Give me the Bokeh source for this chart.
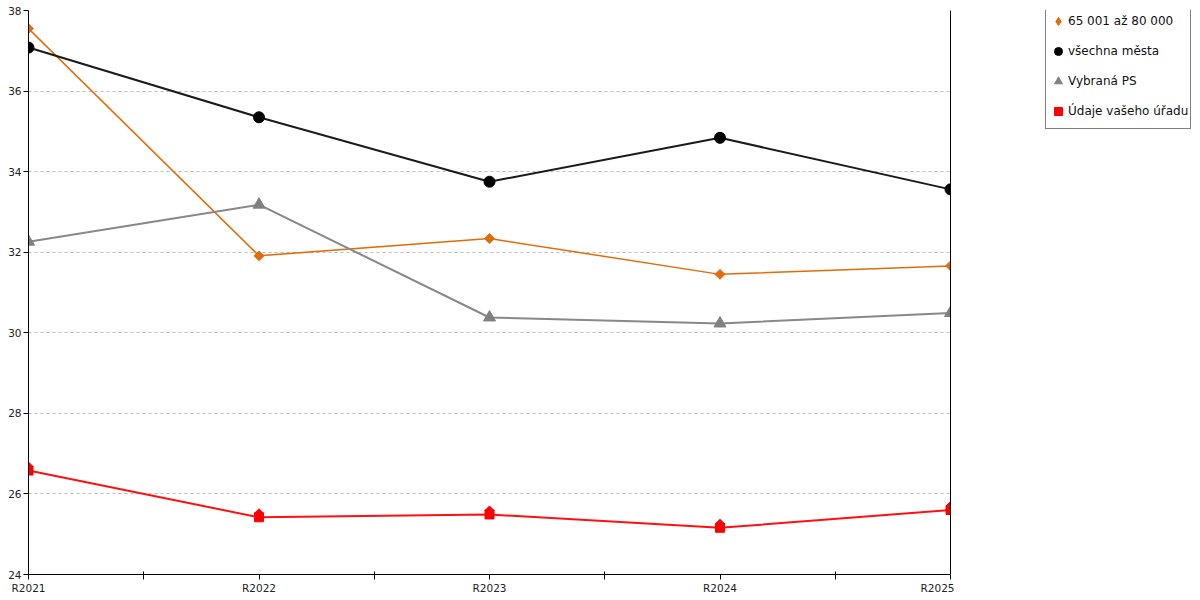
import math
from bokeh.plotting import figure
from bokeh.layouts import row
from bokeh.models import FixedTicker, LinearAxis, Legend, LegendItem, Range1d
from bokeh.embed import file_html
from bokeh.resources import INLINE

years = ["R2021", "R2022", "R2023", "R2024", "R2025"]
s_65 = [37.55, 31.91, 32.34, 31.45, 31.66]
s_all = [37.08, 35.35, 33.75, 34.84, 33.56]
s_ps = [32.26, 33.18, 30.38, 30.23, 30.49]
s_office = [26.58, 25.42, 25.49, 25.16, 25.60]
names = ["65 001 až 80 000", "všechna města", "Vybraná PS", "Údaje vašeho úřadu"]
y_ticks = [24, 26, 28, 30, 32, 34, 36, 38]

FONT = "DejaVu Sans"
x = list(range(len(years)))
x_minor = [i + 0.5 for i in range(len(years) - 1)]

H = 596
p = figure(width=954, height=H, output_backend="svg", toolbar_location=None,
           x_range=Range1d(0, len(years) - 1), y_range=Range1d(24, 38),
           min_border_left=28, min_border_right=4, min_border_top=10, min_border_bottom=0)
p.outline_line_color = None
p.background_fill_color = "white"
p.border_fill_color = "white"

# axes
xa = p.xaxis[0]
xa.ticker = FixedTicker(ticks=x, minor_ticks=x_minor)
xa.major_label_overrides = {i: years[i] for i in x}
xa.major_tick_out = 5
xa.major_tick_in = 0
xa.minor_tick_out = 5
xa.minor_tick_in = 3
xa.major_label_standoff = 2
xa.axis_line_color = "black"
xa.major_label_text_font = FONT
xa.major_label_text_font_size = "10.5px"
xa.major_label_text_color = "#222222"

ya = p.yaxis[0]
ya.ticker = FixedTicker(ticks=y_ticks)
ya.major_tick_out = 5
ya.major_tick_in = 0
ya.minor_tick_out = 0
ya.minor_tick_in = 0
ya.major_label_standoff = 2
ya.major_label_text_font = FONT
ya.major_label_text_font_size = "10.5px"
ya.major_label_text_color = "#222222"

ra = LinearAxis(ticker=FixedTicker(ticks=[]), major_label_text_font_size="0px",
                major_tick_out=0, minor_tick_out=0, major_label_standoff=0,
                axis_line_color="black")
p.add_layout(ra, "right")

p.xgrid.visible = False
p.ygrid.ticker = FixedTicker(ticks=y_ticks)
p.ygrid.grid_line_color = "#bbbbbb"
p.ygrid.grid_line_dash = "3 3"
p.ygrid.grid_line_width = 1

# series
C_OR, C_BK, C_GR, C_RD = "#E36C0A", "black", "#808080", "#FF0000"
p.line(x, s_65, line_color=C_OR, line_width=1.5)
p.line(x, s_all, line_color="#1a1a1a", line_width=2)
p.line(x, s_ps, line_color="#888888", line_width=2)
p.line(x, s_office, line_color="#FF1010", line_width=2)

p.scatter(x, s_65, marker="square", angle=math.pi / 4, size=7, fill_color=C_OR, line_color=C_OR)
p.scatter(x, s_all, marker="circle", size=11, fill_color=C_BK, line_color=C_BK)
p.scatter(x, s_ps, marker="triangle", size=12, fill_color=C_GR, line_color=C_GR)
# house-shaped marker: square body with a diamond roof shifted upward by ~4 px
roof_shift = 0.1
p.scatter(x, s_office, marker="square", size=9, fill_color=C_RD, line_color=C_RD)
p.scatter(x, [v + roof_shift for v in s_office], marker="square", angle=math.pi / 4,
          size=6.4, fill_color=C_RD, line_color=C_RD)

# legend panel: separate figure to the right; its glyph renderers sit far outside
# the visible range, so only their legend swatches show
pl = figure(width=242, height=H, output_backend="svg", toolbar_location=None,
            x_range=Range1d(0, 1), y_range=Range1d(1000, 1001),
            x_axis_type=None, y_axis_type=None, min_border=0)
pl.outline_line_color = None
pl.xgrid.visible = False
pl.ygrid.visible = False
l1 = pl.scatter(x, s_65, marker="diamond", size=11, fill_color=C_OR, line_color=C_OR)
l2 = pl.scatter(x, s_all, marker="circle", size=11, fill_color=C_BK, line_color=C_BK)
l3 = pl.scatter(x, s_ps, marker="triangle", size=12, fill_color=C_GR, line_color=C_GR)
l4 = pl.scatter(x, s_office, marker="square", size=9, fill_color=C_RD, line_color=C_RD)
l4b = pl.scatter(x, s_office, marker="triangle", size=9, fill_color=C_RD, line_color=C_RD)

legend = Legend(items=[
    LegendItem(label=names[0], renderers=[l1]),
    LegendItem(label=names[1], renderers=[l2]),
    LegendItem(label=names[2], renderers=[l3]),
    LegendItem(label=names[3], renderers=[l4, l4b]),
], location=(91, H - 151))
legend.border_line_color = "black"
legend.border_line_width = 1
legend.background_fill_color = "white"
legend.background_fill_alpha = 1
legend.label_text_font = FONT
legend.label_text_font_size = "12px"
legend.label_text_color = "#111111"
legend.glyph_width = 20
legend.glyph_height = 20
legend.label_height = 30
legend.label_standoff = 0
legend.spacing = 0
legend.padding = 2
legend.margin = 0
pl.add_layout(legend, "center")

layout = row(p, pl)
open("out.html", "w").write(file_html(layout, INLINE))
